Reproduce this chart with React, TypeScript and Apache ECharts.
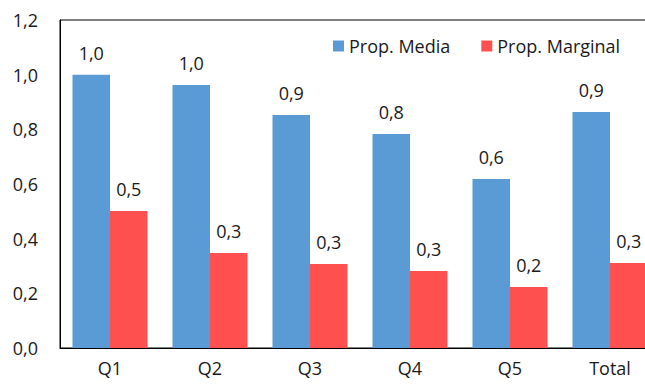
import React, { useEffect, useRef } from "react";
import * as echarts from "echarts";

const categories = ["Q1", "Q2", "Q3", "Q4", "Q5", "Total"];
const propMedia = [1.0, 0.962, 0.852, 0.783, 0.618, 0.863];
const propMarginal = [0.501, 0.348, 0.307, 0.282, 0.223, 0.311];
const seriesNames = ["Prop. Media", "Prop. Marginal"];

const FONT = "'Open Sans', sans-serif";
const TEXT_COLOR = "#1a1a1a";
const FS = 18;

const fmt = (v: number) => v.toFixed(1).replace(".", ",");

export default function App() {
  const ref = useRef<HTMLDivElement>(null);

  useEffect(() => {
    if (!ref.current) return;
    const chart = echarts.init(ref.current, undefined, { renderer: "svg" });
    const label = {
      show: true,
      position: "top" as const,
      distance: 13,
      fontFamily: FONT,
      fontSize: FS,
      color: TEXT_COLOR,
      formatter: (p: any) => fmt(p.value),
    };
    chart.setOption({
      animation: false,
      backgroundColor: "#ffffff",
      textStyle: { fontFamily: FONT },
      legend: {
        left: 328,
        top: 32,
        itemWidth: 11,
        itemHeight: 11,
        itemGap: 31,
        icon: "rect",
        textStyle: { fontFamily: FONT, fontSize: FS, color: TEXT_COLOR, padding: [0, 0, 0, 0] },
        data: seriesNames,
      },
      // the plot area runs past the right edge of the canvas
      grid: {
        left: 60,
        top: 20,
        width: 600,
        height: 328,
        outerBoundsMode: "none",
        show: true,
        borderColor: "#000",
        borderWidth: 1,
      },
      xAxis: {
        type: "category",
        data: categories,
        axisLine: { lineStyle: { color: "#000", width: 1 } },
        axisTick: { show: false },
        axisLabel: { fontFamily: FONT, fontSize: FS, color: TEXT_COLOR, margin: 11 },
      },
      yAxis: {
        type: "value",
        min: 0,
        max: 1.2,
        interval: 0.2,
        splitLine: { show: false },
        axisLine: { show: true, lineStyle: { color: "#000", width: 1 } },
        axisTick: { show: false },
        axisLabel: {
          fontFamily: FONT,
          fontSize: FS,
          color: TEXT_COLOR,
          margin: 22,
          formatter: (v: number) => fmt(v),
        },
      },
      series: [
        {
          name: seriesNames[0],
          type: "bar",
          data: propMedia,
          barGap: "0%",
          barCategoryGap: "25%",
          itemStyle: { color: "#5B9BD5" },
          label,
        },
        {
          name: seriesNames[1],
          type: "bar",
          data: propMarginal,
          barGap: "0%",
          barCategoryGap: "25%",
          itemStyle: { color: "#FF5050" },
          label,
        },
      ],
    });
    return () => chart.dispose();
  }, []);

  return (
    <div
      ref={ref}
      style={{ position: "fixed", left: 0, top: 0, width: 645, height: 386 }}
    />
  );
}
